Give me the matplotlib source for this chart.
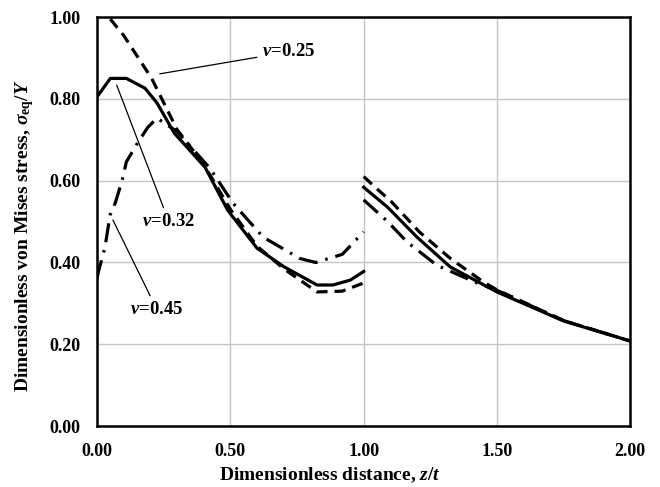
import matplotlib
matplotlib.use("Agg")
import matplotlib.pyplot as plt

plt.rcParams['font.family'] = ['Liberation Serif', 'DejaVu Serif']
plt.rcParams['font.weight'] = 'bold'
plt.rcParams['mathtext.fontset'] = 'custom'
plt.rcParams['mathtext.rm'] = 'Liberation Serif:bold'
plt.rcParams['mathtext.it'] = 'Liberation Serif:italic:bold'
plt.rcParams['mathtext.bf'] = 'Liberation Serif:bold'

# nu = 0.32 (solid)
z32_a = [0.0, 0.05, 0.11, 0.18, 0.225, 0.29, 0.405, 0.49, 0.6, 0.70, 0.825, 0.885, 0.95, 1.0]
s32_a = [0.805, 0.85, 0.85, 0.826, 0.79, 0.716, 0.633, 0.528, 0.435, 0.39, 0.345, 0.345, 0.357, 0.378]
z32_b = [1.0, 1.09, 1.2, 1.325, 1.5, 1.75, 2.0]
s32_b = [0.584, 0.535, 0.462, 0.389, 0.328, 0.257, 0.208]

# nu = 0.25 (dashed)
z25_a = [0.05, 0.10, 0.15, 0.205, 0.243, 0.30, 0.40, 0.50, 0.60, 0.70, 0.825, 0.92, 1.0]
s25_a = [0.995, 0.955, 0.905, 0.85, 0.80, 0.725, 0.64, 0.53, 0.44, 0.385, 0.328, 0.33, 0.35]
z25_b = [1.0, 1.05, 1.105, 1.21, 1.325, 1.45, 1.5, 1.75, 2.0]
s25_b = [0.61, 0.58, 0.548, 0.474, 0.41, 0.352, 0.333, 0.258, 0.208]

# nu = 0.45 (dash-dot)
z45_a = [0.0, 0.004, 0.03, 0.049, 0.068, 0.094, 0.11, 0.15, 0.19, 0.225, 0.30, 0.424, 0.51, 0.623, 0.76, 0.82, 0.92, 1.0]
s45_a = [0.36, 0.374, 0.438, 0.516, 0.545, 0.60, 0.646, 0.69, 0.73, 0.753, 0.72, 0.63, 0.545, 0.462, 0.41, 0.40, 0.42, 0.475]
z45_b = [1.0, 1.09, 1.163, 1.275, 1.425, 1.5, 1.75, 2.0]
s45_b = [0.553, 0.50, 0.45, 0.393, 0.35, 0.332, 0.258, 0.208]

xticks = [0.0, 0.5, 1.0, 1.5, 2.0]
yticks = [0.0, 0.2, 0.4, 0.6, 0.8, 1.0]

fig = plt.figure(figsize=(6.6, 4.87), dpi=100)
ax = fig.add_axes([0.147, 0.125, 0.808, 0.84])

lw = 2.3
for zs, ss in [(z32_a, s32_a), (z32_b, s32_b)]:
    ax.plot(zs, ss, color='black', lw=lw, ls='-')
for zs, ss in [(z25_a, s25_a), (z25_b, s25_b)]:
    ax.plot(zs, ss, color='black', lw=lw, ls=(0, (3.5, 2.2)))
for zs, ss in [(z45_a, s45_a), (z45_b, s45_b)]:
    ax.plot(zs, ss, color='black', lw=lw, ls=(0, (6, 2.5, 0.8, 2.5)))

ax.set_xlim(0, 2)
ax.set_ylim(0, 1)
ax.set_xticks(xticks)
ax.set_yticks(yticks)
ax.set_xticklabels(['%.2f' % v for v in xticks], fontsize=13, fontweight='bold')
ax.set_yticklabels(['%.2f' % v for v in yticks], fontsize=13, fontweight='bold')
ax.tick_params(axis='x', length=0, pad=12)
ax.tick_params(axis='y', length=0, pad=12)
ax.grid(True, color='#c4c4c4', lw=1)
ax.set_axisbelow(True)
for sp in ax.spines.values():
    sp.set_linewidth(1.8)
    sp.set_color('black')

ax.set_xlabel(r'Dimensionless distance, $z/t$', fontsize=14, fontweight='bold')
ax.set_ylabel(r'Dimensionless von Mises stress, $\sigma_{\rm eq}/Y$', fontsize=14, fontweight='bold')
ax.xaxis.set_label_coords(0.437, -0.097)
ax.yaxis.set_label_coords(-0.115, 0.465)

arrow = dict(arrowstyle='-', color='black', lw=0.9)
ax.annotate(r'$\nu$=0.25', xy=(0.225, 0.86), xytext=(0.62, 0.915), fontsize=13.5,
            fontweight='bold', va='center', arrowprops=arrow)
ax.annotate(r'$\nu$=0.32', xy=(0.07, 0.84), xytext=(0.17, 0.50), fontsize=13.5,
            fontweight='bold', va='center', ha='left', arrowprops=arrow)
ax.annotate(r'$\nu$=0.45', xy=(0.055, 0.51), xytext=(0.125, 0.285), fontsize=13.5,
            fontweight='bold', va='center', ha='left', arrowprops=arrow)

fig.savefig('out.png', dpi=100)
